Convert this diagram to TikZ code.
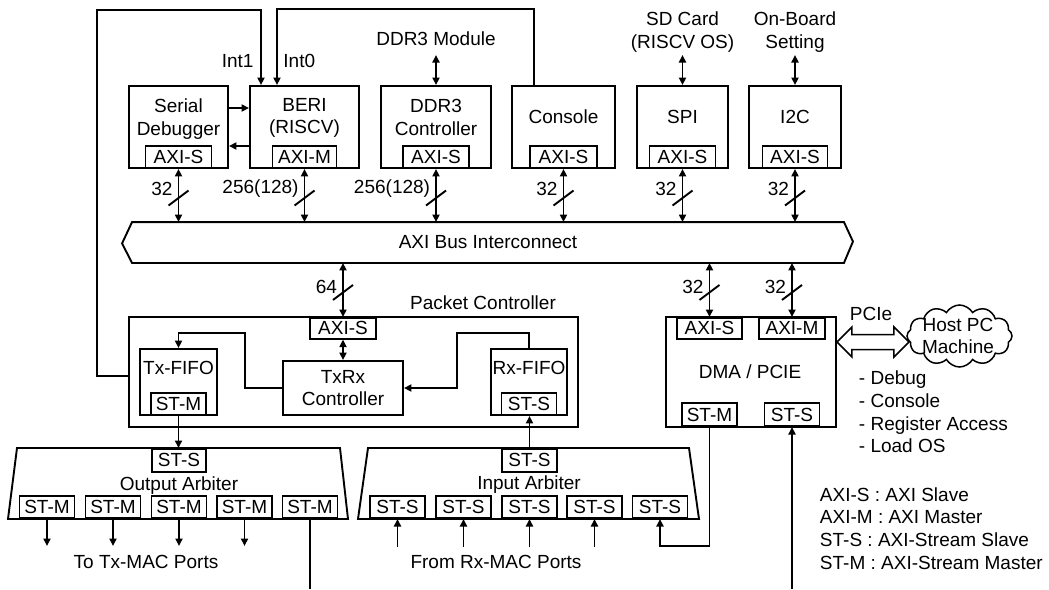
\documentclass[tikz,border=0pt]{standalone}
\usepackage{fontspec}
\setmainfont{Liberation Sans}
\usetikzlibrary{arrows.meta,calc,shapes.symbols}
\begin{document}
\begin{tikzpicture}[x=1pt,y=-1pt,line width=1.9pt,
  every node/.style={font=\fontsize{19}{22.8}\selectfont,inner sep=0pt},
  box/.style={draw,rectangle,inner sep=0pt},
  port/.style={draw,rectangle,inner sep=0pt,minimum height=22pt,line width=1.6pt},
  txt/.style={align=center},
  arr/.style={-{Triangle[length=7.5pt,width=7pt]}},
  dbl/.style={{Triangle[length=7.5pt,width=7pt]}-{Triangle[length=7.5pt,width=7pt]}}]
\useasboundingbox (0,0) rectangle (1049,589);

% ---------- top row ----------
\node[box,minimum width=99pt,minimum height=82pt] (sd) at (178.5,127) {};
\node[txt] (sdT) at (178.5,119) {Serial\\Debugger};
\node[port,minimum width=66pt,anchor=south] (sdA) at (sd.south) {AXI-S};

\node[box,minimum width=109pt,minimum height=82pt] (beri) at (304.5,127) {};
\node[txt] (beriT) at (304.5,118) {BERI\\(RISCV)};
\node[port,minimum width=64pt,anchor=south] (beriA) at (beri.south) {AXI-M};

\node[box,minimum width=110pt,minimum height=82pt] (ddr) at (436,127) {};
\node[txt] (ddrT) at (436,117.5) {DDR3\\Controller};
\node[port,minimum width=66pt,anchor=south] (ddrA) at (ddr.south) {AXI-S};

\node[box,minimum width=103pt,minimum height=82pt] (con) at (563.5,127) {};
\node[txt] (conT) at (563.5,117) {Console};
\node[port,minimum width=67pt,anchor=south] (conA) at (con.south) {AXI-S};

\node[box,minimum width=91pt,minimum height=82pt] (spi) at (682.5,127) {};
\node[txt] (spiT) at (682.5,117) {SPI};
\node[port,minimum width=66pt,anchor=south] (spiA) at (spi.south) {AXI-S};

\node[box,minimum width=92pt,minimum height=82pt] (i2c) at (795,127) {};
\node[txt] (i2cT) at (795,117) {I2C};
\node[port,minimum width=65pt,anchor=south] (i2cA) at (i2c.south) {AXI-S};

% external labels on top
\node[txt,anchor=south,inner ysep=8pt] (ddrm) at (436,55) {DDR3 Module};
\node[txt,anchor=south,inner ysep=2pt] (sdc) at (682.5,55) {SD Card\\(RISCV OS)};
\node[txt,anchor=south,inner ysep=2pt] (obs) at (795,55) {On-Board\\Setting};
\draw[dbl] (ddrm.south) -- (ddrm.south |- ddr.north);
\draw[dbl] (sdc.south) -- (sdc.south |- spi.north);
\draw[dbl] (obs.south) -- (obs.south |- i2c.north);

% serial debugger <-> BERI
\draw[arr] ($(sd.east)+(0,-19)$) -- ($(beri.west)+(0,-19)$);
\draw[arr] ($(beri.west)+(0,19)$) -- ($(sd.east)+(0,19)$);

% ---------- bus ----------
\node[minimum width=710pt,minimum height=39pt] (bus) at (488,242.5) {AXI Bus Interconnect};
\draw (bus.north west) -- (bus.north east) -- ++(9,19.5) -- (bus.south east)
      -- (bus.south west) -- ++(-10,-19.5) -- cycle;

\foreach \p/\t [count=\n] in {sdA/32,beriA/256(128),ddrA/256(128),conA/32,spiA/32,i2cA/32}{
  \coordinate (bt\n) at (\p.south |- bus.north);
  \draw[dbl] (\p.south) -- (bt\n);
  \draw ($(\p.south)!0.5!(bt\n)+(-10,10)$) -- ++(20,-15);
  \node[anchor=east] (wt\n) at ($(\p.south)+(-5,20)$) {\t};
}

% ---------- packet controller ----------
\node[box,minimum width=449pt,minimum height=110pt] (pc) at (353.5,372) {};
\node (pcT) at (483,303) {Packet Controller};
\node[port,minimum width=66pt,minimum height=21pt,anchor=north] (pcA) at (343,317) {AXI-S};
\node[box,minimum width=120pt,minimum height=54pt,align=center] (txrx) at (343,388) {TxRx\\Controller};
\node[box,minimum width=77pt,minimum height=66pt] (txf) at (178.5,382) {};
\node (txfT) at (178.5,368) {Tx-FIFO};
\node[port,minimum width=55pt,anchor=south] (txfM) at (txf.south) {ST-M};
\node[box,minimum width=76pt,minimum height=66pt] (rxf) at (529,382) {};
\node (rxfT) at (529,368) {Rx-FIFO};
\node[port,minimum width=55pt,anchor=south] (rxfS) at (rxf.south) {ST-S};

\draw[dbl] (pcA.south) -- (txrx.north);
\draw[arr] (txrx.west) -| (245,333) -| (txf.north);
\draw[arr] (rxf.north) |- (457,333) |- (txrx.east);

% interrupt lines
\draw[arr] ($(pc.west)+(0,4)$) -| (97,10) -| ($(beri.north)+(-43.5,0)$);
\draw[arr] ($(con.north)+(-29.5,0)$) |- ($(beri.north)+(-27.5,-76)$) -- ($(beri.north)+(-27.5,0)$);
\node[anchor=east] (int1) at ($(beri.north)+(-50,-24)$) {Int1};
\node[anchor=west] (int0) at ($(beri.north)+(-22,-24)$) {Int0};

% ---------- DMA / PCIE ----------
\node[box,minimum width=170pt,minimum height=110pt] (dma) at (751,372) {};
\node (dmaT) at (750,372) {DMA / PCIE};
\node[port,minimum width=65pt,minimum height=21pt,anchor=north] (dmaA) at (709.5,317) {AXI-S};
\node[port,minimum width=66pt,minimum height=21pt,anchor=north] (dmaM) at (792,317) {AXI-M};
\node[port,minimum width=55pt,minimum height=23pt,anchor=south] (dmaSM) at (709.5,427) {ST-M};
\node[port,minimum width=55pt,minimum height=23pt,anchor=south] (dmaSS) at (792,427) {ST-S};

\foreach \p/\t [count=\n] in {pcA/64,dmaA/32,dmaM/32}{
  \coordinate (bb\n) at (\p.north |- bus.south);
  \draw[dbl] (bb\n) -- (\p.north);
  \draw ($(bb\n)!0.5!(\p.north)+(-10,10)$) -- ++(20,-15);
  \node[anchor=east] (wb\n) at ($(\p.north)+(-5,-30)$) {\t};
}

% PCIe hollow double arrow and host cloud
\node[cloud,draw,cloud puffs=12,cloud puff arc=120,aspect=1.7,minimum width=105pt,minimum height=62pt,inner sep=0pt,line width=1.5pt] (host) at (959.5,336) {};
\node[txt] (hostT) at (958,336) {Host PC\\Machine};
\coordinate (pl) at ($(dma.east)+(0,-30)$);
\draw[line width=1.5pt] (pl) -- ++(15,-15) -- ++(0,7.5) -- ++(42,0) -- ++(0,-7.5) -- ++(15,15)
      -- ++(-15,15) -- ++(0,-7.5) -- ++(-42,0) -- ++(0,7.5) -- cycle;
\node (pcie) at (871,314) {PCIe};

\node[align=left,anchor=west] (feat) at (858,412) {- Debug\\- Console\\- Register Access\\- Load OS};
\node[align=left,anchor=west] (leg) at (819,528.5) {AXI-S : AXI Slave\\AXI-M : AXI Master\\ST-S : AXI-Stream Slave\\ST-M : AXI-Stream Master};

% ---------- output arbiter ----------
\draw (17,448) -- (340,448) -- (348,519) -- (8,519) -- cycle;
\node[port,minimum width=54pt,minimum height=23pt,anchor=north] (oaS) at (179,448) {ST-S};
\node (oaT) at (179,486) {Output Arbiter};
\foreach \x [count=\i] in {47,113,179,244.5,310}
  \node[port,minimum width=55pt,anchor=south] (oaM\i) at (\x,519) {ST-M};
\draw[arr] (txfM.south) -- (txfM.south |- oaS.north);
\foreach \i in {1,...,4} \draw[arr] (oaM\i.south) -- ++(0,27);
\draw (oaM5.south) -- ++(0,70);
\node (txmac) at (146,562) {To Tx-MAC Ports};

% ---------- input arbiter ----------
\draw (368,448) -- (689,448) -- (699,519) -- (358,519) -- cycle;
\node[port,minimum width=55pt,minimum height=23pt,anchor=north] (iaS) at (529.5,448) {ST-S};
\node (iaT) at (529,485) {Input Arbiter};
\foreach \x [count=\i] in {397.5,463.5,529.5,594.5,660}
  \node[port,minimum width=55pt,anchor=south] (iaM\i) at (\x,519) {ST-S};
\draw[arr] (iaS.north) -- (iaS.north |- rxfS.south);
\foreach \i in {1,...,4} \draw[arr] ($(iaM\i.south)+(0,28)$) -- (iaM\i.south);
\draw[arr] (dmaSM.south) |- ($(iaM5.south)+(0,27)$) -- (iaM5.south);
\draw[arr] ($(dmaSS.south)+(0,162)$) -- (dmaSS.south);
\node (rxmac) at (496,562) {From Rx-MAC Ports};
\end{tikzpicture}
\end{document}
